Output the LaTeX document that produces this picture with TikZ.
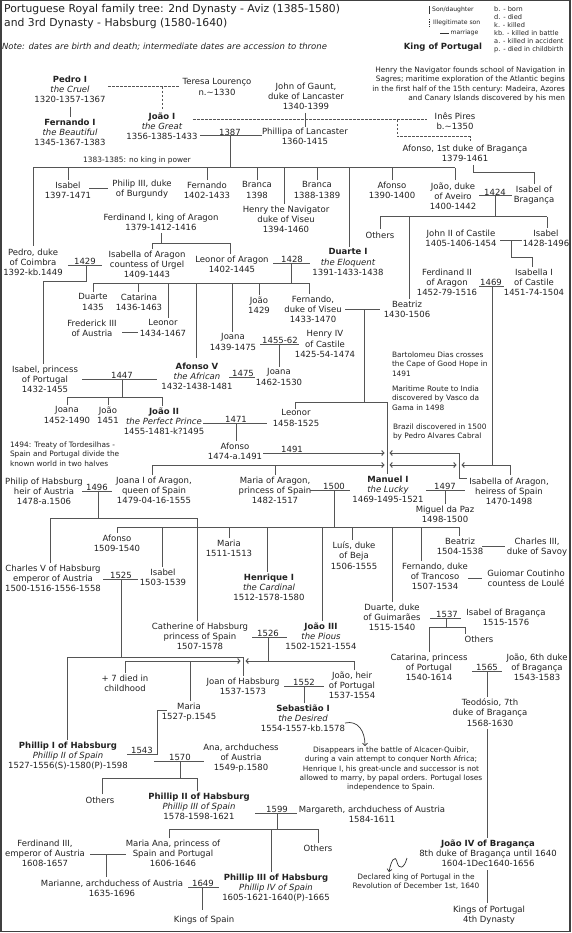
\documentclass[tikz,border=0pt]{standalone}
\usepackage{fontspec}
\setmainfont{DejaVu Sans}
\usetikzlibrary{arrows.meta}
\definecolor{txt}{HTML}{222222}
\definecolor{lnc}{HTML}{555555}
\newcommand\mfont{\fontsize{8.5}{10.3}\selectfont}
\newcommand\sfont{\fontsize{7.4}{9.3}\selectfont}
\begin{document}
\begin{tikzpicture}[x=1pt,y=-1pt,
  t/.style={anchor=north,yshift=4.4pt,inner sep=0pt,outer sep=0pt,align=center,font=\mfont,text=txt,execute at begin node=\strut,execute at end node=\strut},
  sn/.style={yshift=4.2pt,inner sep=0pt,outer sep=0pt,font=\sfont,text=txt,execute at begin node=\strut,execute at end node=\strut},
  yr/.style={anchor=south,yshift=0.8pt,inner sep=0pt,outer sep=0pt,font=\mfont,text=txt},
  ill/.style={dash pattern=on 2.5pt off 1.5pt},
  cx/.style={-{Straight Barb[length=2.2pt,width=5pt]}},
  xc/.style={{Straight Barb[length=2.2pt,width=5pt]}-},
  xcx/.style={{Straight Barb[length=2.2pt,width=5pt]}-{Straight Barb[length=2.2pt,width=5pt]}}]
\useasboundingbox (0,0) rectangle (572,933);
\fill[white] (0,0) rectangle (572,933);
\draw[black!75,line width=1.5pt] (0.75,0.75) rectangle (570,931.5);

% title, note, legend
\node[anchor=north west,inner sep=0pt,align=left,font=\fontsize{10.8}{14}\selectfont,text=txt,execute at begin node=\strut] (title) at (4,3.8) {Portuguese Royal family tree: 2nd Dynasty - Aviz (1385-1580)\\and 3rd Dynasty - Habsburg (1580-1640)};
\node[t,anchor=north west,align=left] (note) at (2,47) {\itshape Note: dates are birth and death; intermediate dates are accession to throne};
\begin{scope}[color=black!80,line width=0.8pt]
\draw (429.5,6) -- (429.5,14);
\draw[dash pattern=on 1.5pt off 1pt] (429.5,19) -- (429.5,27);
\draw (440,33) -- (449,33);
\end{scope}
\node[anchor=west,inner sep=0pt,font=\fontsize{6.1}{7}\selectfont,text=txt] (lg1) at (432,10) {Son/daughter};
\node[anchor=west,inner sep=0pt,font=\fontsize{6.1}{7}\selectfont,text=txt] (lg2) at (433,23) {Illegitimate son};
\node[anchor=west,inner sep=0pt,font=\fontsize{6.1}{7}\selectfont,text=txt] (lg3) at (450.5,33) {marriage};
\node[inner sep=0pt,font=\mfont\bfseries,text=txt] (lgk) at (443,47) {King of Portugal};
\node[anchor=north west,inner sep=0pt,align=left,font=\fontsize{6.6}{8.1}\selectfont,text=txt,execute at begin node=\strut] (abbr) at (494,5.8) {b. - born\\d. - died\\k. - killed\\kb. - killed in battle\\a. - killed in accident\\p. - died in childbirth};

% people
\node[t] (pedro) at (70,80) {{\bfseries Pedro I}\\{\itshape the Cruel}\\1320-1357-1367};
\node[t] (fernando) at (70,123) {{\bfseries Fernando I}\\{\itshape the Beautiful}\\1345-1367-1383};
\node[t] (teresa) at (217,83) {Teresa Lourenço\\n.\textasciitilde1330};
\node[t] (joao1) at (162,117) {{\bfseries João I}\\{\itshape the Great}\\1356-1385-1433};
\node[t] (gaunt) at (306,87) {John of Gaunt,\\duke of Lancaster\\1340-1399};
\node[t] (phillipa) at (305,132) {Phillipa of Lancaster\\1360-1415};
\node[t] (ines) at (455,117) {Inês Pires\\b.\textasciitilde1350};
\node[t] (afonsoB) at (465,149) {Afonso, 1st duke of Bragança\\1379-1461};
\node[sn,anchor=north east,align=right] (henrynote) at (565,71) {Henry the Navigator founds school of Navigation in\\Sagres; maritime exploration of the Atlantic begins\\in the first half of the 15th century: Madeira, Azores\\and Canary Islands discovered by his men};
\node[sn,anchor=north] (noking) at (137,160) {1383-1385: no king in power};

\node[t] (isabel1) at (68,186) {Isabel\\1397-1471};
\node[t] (philip3) at (142,184) {Philip III, duke\\of Burgundy};
\node[t] (fernando2) at (207,186) {Fernando\\1402-1433};
\node[t] (branca1) at (257,186) {Branca\\1398};
\node[t] (henry) at (286,210) {Henry the Navigator\\duke of Viseu\\1394-1460};
\node[t] (branca2) at (317,186) {Branca\\1388-1389};
\node[t] (afonso2) at (392,186) {Afonso\\1390-1400};
\node[t] (joaoAv) at (453,187) {João, duke\\of Aveiro\\1400-1442};
\node[t] (isabelB) at (534,190) {Isabel of\\Bragança};
\node[t] (ferdinand1) at (161,218) {Ferdinand I, king of Aragon\\1379-1412-1416};
\node[t] (pedroC) at (33,253) {Pedro, duke\\of Coimbra\\1392-kb.1449};
\node[t] (isabellaA) at (147,255) {Isabella of Aragon\\countess of Urgel\\1409-1443};
\node[t] (leonorA) at (232,260) {Leonor of Aragon\\1402-1445};
\node[t] (duarte1) at (348,253) {{\bfseries Duarte I}\\{\itshape the Eloquent}\\1391-1433-1438};
\node[t] (others1) at (380,236) {Others};
\node[t] (johnII) at (461,234) {John II of Castile\\1405-1406-1454};
\node[t] (isabel3) at (546,234) {Isabel\\1428-1496};
\node[t] (ferdinand2) at (447,273) {Ferdinand II\\of Aragon\\1452-79-1516};
\node[t] (isabellaI) at (534,273) {Isabella I\\of Castile\\1451-74-1504};
\node[t] (duarte2) at (93,298) {Duarte\\1435};
\node[t] (catarina1) at (139,298) {Catarina\\1436-1463};
\node[t] (joao1429) at (259,301) {João\\1429};
\node[t] (fernandoV) at (313,300) {Fernando,\\duke of Viseu\\1433-1470};
\node[t] (beatriz1) at (407,305) {Beatriz\\1430-1506};
\node[t] (frederick) at (92,324) {Frederick III\\of Austria};
\node[t] (leonor2) at (163,324) {Leonor\\1434-1467};
\node[t] (joana1) at (233,338) {Joana\\1439-1475};
\node[t] (henryIV) at (325,335) {Henry IV\\of Castile\\1425-54-1474};
\node[t] (afonso5) at (197,367) {{\bfseries Afonso V}\\{\itshape the African}\\1432-1438-1481};
\node[t] (joana2) at (279,373) {Joana\\1462-1530};
\node[t] (isabelP) at (45,370) {Isabel, princess\\of Portugal\\1432-1455};
\node[t] (joana3) at (67,411) {Joana\\1452-1490};
\node[t] (joao1451) at (108,411) {João\\1451};
\node[t] (joao2) at (164,412) {{\bfseries João II}\\{\itshape the Perfect Prince}\\1455-1481-k?1495};
\node[t] (leonor3) at (296,414) {Leonor\\1458-1525};
\node[t] (afonso3) at (235,447) {Afonso\\1474-a.1491};
\node[sn,anchor=north west,align=left] (tordesilhas) at (10,446) {1494: Treaty of Tordesilhas -\\Spain and Portugal divide the\\known world in two halves};
\node[sn,anchor=north west,align=left] (dias) at (392,356) {Bartolomeu Dias crosses\\the Cape of Good Hope in\\1491};
\node[sn,anchor=north west,align=left] (gama) at (392,390) {Maritime Route to India\\discovered by Vasco da\\Gama in 1498};
\node[sn,anchor=north west,align=left] (brazil) at (393,428) {Brazil discovered in 1500\\by Pedro Alvares Cabral};
\node[t] (philipH) at (44,482) {Philip of Habsburg\\heir of Austria\\1478-a.1506};
\node[t] (joanaI) at (154,481) {Joana I of Aragon,\\queen of Spain\\1479-04-16-1555};
\node[t] (mariaA) at (275,481) {Maria of Aragon,\\princess of Spain\\1482-1517};
\node[t] (manuel) at (388,480) {{\bfseries Manuel I}\\{\itshape the Lucky}\\1469-1495-1521};
\node[t] (isabellaAr) at (509,482) {Isabella of Aragon,\\heiress of Spain\\1470-1498};
\node[t] (miguel) at (445,510) {Miguel da Paz\\1498-1500};
\node[t] (afonso4) at (117,539) {Afonso\\1509-1540};
\node[t] (maria2) at (229,544) {Maria\\1511-1513};
\node[t] (luis) at (354,546) {Luís, duke\\of Beja\\1506-1555};
\node[t] (beatriz2) at (460,542) {Beatriz\\1504-1538};
\node[t] (charles3) at (537,542) {Charles III,\\duke of Savoy};
\node[t] (charlesV) at (53,569) {Charles V of Habsburg\\emperor of Austria\\1500-1516-1556-1558};
\node[t] (isabel4) at (163,573) {Isabel\\1503-1539};
\node[t] (henrique) at (269,578) {{\bfseries Henrique I}\\{\itshape the Cardinal}\\1512-1578-1580};
\node[t] (fernandoT) at (435,567) {Fernando, duke\\of Trancoso\\1507-1534};
\node[t] (guiomar) at (526,574) {Guiomar Coutinho\\countess de Loulé};
\node[t] (duarteG) at (392,608) {Duarte, duke\\of Guimarães\\1515-1540};
\node[t] (isabelB2) at (506,613) {Isabel of Bragança\\1515-1576};
\node[t] (catherine) at (200,627) {Catherine of Habsburg\\princess of Spain\\1507-1578};
\node[t] (joao3) at (321,627) {{\bfseries João III}\\{\itshape the Pious}\\1502-1521-1554};
\node[t] (othersB) at (479,640) {Others};
\node[t] (catarinaP) at (429,658) {Catarina, princess\\of Portugal\\1540-1614};
\node[t] (joao6) at (537,658) {João, 6th duke\\of Bragança\\1543-1583};
\node[t] (died7) at (125,679) {+ 7 died in\\childhood};
\node[t] (joan) at (243,682) {Joan of Habsburg\\1537-1573};
\node[t] (joaoHeir) at (352,676) {João, heir\\of Portugal\\1537-1554};
\node[t] (teodosio) at (490,703) {Teodósio, 7th\\duke of Bragança\\1568-1630};
\node[t] (maria3) at (189,707) {Maria\\1527-p.1545};
\node[t] (sebastiao) at (303,709) {{\bfseries Sebastião I}\\{\itshape the Desired}\\1554-1557-kb.1578};
\node[sn,anchor=north,align=center] (sebnote) at (391,751) {Disappears in the battle of Alcacer-Quibir,\\during a vain attempt to conquer North Africa;\\Henrique I, his great-uncle and successor is not\\allowed to marry, by papal orders. Portugal loses\\independence to Spain.};
\node[t] (phillipI) at (68,746) {{\bfseries Phillip I of Habsburg}\\{\itshape Phillip II of Spain}\\1527-1556(S)-1580(P)-1598};
\node[t] (ana) at (241,748) {Ana, archduchess\\of Austria\\1549-p.1580};
\node[t] (othersC) at (100,801) {Others};
\node[t] (phillipII) at (199,797) {{\bfseries Phillip II of Habsburg}\\{\itshape Phillip III of Spain}\\1578-1598-1621};
\node[t] (margareth) at (372,810) {Margareth, archduchess of Austria\\1584-1611};
\node[t] (othersD) at (318,849) {Others};
\node[t] (ferdinand3) at (45,844) {Ferdinand III,\\emperor of Austria\\1608-1657};
\node[t] (mariaAna) at (173,844) {Maria Ana, princess of\\Spain and Portugal\\1606-1646};
\node[t] (marianne) at (112,884) {Marianne, archduchess of Austria\\1635-1696};
\node[t] (phillipIII) at (276,878) {{\bfseries Phillip III of Habsburg}\\{\itshape Phillip IV of Spain}\\1605-1621-1640(P)-1665};
\node[t] (kingsSpain) at (204,920) {Kings of Spain};
\node[t] (joao4) at (488,844) {{\bfseries João IV of Bragança}\\8th duke of Bragança until 1640\\1604-1Dec1640-1656};
\node[sn,anchor=north,align=center] (declared) at (416,878) {Declared king of Portugal in the\\Revolution of December 1st, 1640};
\node[t] (kingsPortugal) at (489,910) {Kings of Portugal\\4th Dynasty};

% marriage years
\node[yr] (y1387) at (230,136) {1387};
\node[yr] (y1424) at (495,196) {1424};
\node[yr] (y1429) at (85,265) {1429};
\node[yr] (y1428) at (292,263) {1428};
\node[yr] (y1469) at (491,286) {1469};
\node[yr] (y145562) at (280,344) {1455-62};
\node[yr] (y1447) at (122,379) {1447};
\node[yr] (y1475) at (243,377) {1475};
\node[yr] (y1471) at (236,423) {1471};
\node[yr] (y1491) at (292,453) {1491};
\node[yr] (y1496) at (97,491) {1496};
\node[yr] (y1500) at (334,490) {1500};
\node[yr] (y1497) at (445,490) {1497};
\node[yr] (y1525) at (121,579) {1525};
\node[yr] (y1537) at (447,618) {1537};
\node[yr] (y1526) at (268,637) {1526};
\node[yr] (y1565) at (487,671) {1565};
\node[yr] (y1552) at (304,686) {1552};
\node[yr] (y1543) at (142,754) {1543};
\node[yr] (y1570) at (180,761) {1570};
\node[yr] (y1599) at (277,813) {1599};
\node[yr] (y1649) at (203,887) {1649};

\begin{scope}[color=lnc,line width=1pt]
% illegitimate links
\draw[ill] (108,87) -- (180,87);
\draw[ill] (162,87) -- (162,110);
\draw[ill] (193,120) -- (427,120);
\draw[ill] (397,120) -- (397,137) -- (470,137) -- (470,143);
% Pedro I -> Fernando I
\draw (70,107) -- (70,117);
% Joao I + Phillipa
\draw (200,136) -- (262,136);
\draw (305,113) -- (305,127);
\draw (230,136) -- (230,168);
\draw (33,168) -- (455,168);
\foreach \x/\y in {33/246,68/180,207/180,257/180,284/204,317/180,349/247,392/180,455/180}
  \draw (\x,168) -- (\x,\y);
\draw (89,189) -- (108,189);
% Afonso of Braganca -> Isabel
\draw (473,165) -- (473,173) -- (534,173) -- (534,184);
% Joao of Aveiro + Isabel 1424
\draw (479,196) -- (512,196);
\draw (495,196) -- (495,217);
\draw (380,217) -- (547,217);
\draw (380,217) -- (380,229);
\draw (409,217) -- (409,299);
\draw (547,217) -- (547,228);
% John II + Isabel
\draw (500,240) -- (522,240);
\draw (511,240) -- (511,257) -- (532,257) -- (532,267);
% Ferdinand II + Isabella I 1469
\draw (479,286) -- (504,286);
\draw (492,286) -- (492,465);
% Ferdinand I of Aragon
\draw (161,233) -- (161,243);
\draw (152,249) -- (152,243) -- (230,243) -- (230,254);
% Pedro + Isabella 1429
\draw (68,265) -- (102,265);
\draw (86,265) -- (86,281) -- (43,281) -- (43,364);
% Duarte + Leonor 1428
\draw (273,263) -- (310,263);
\draw (291,263) -- (291,283);
\draw (93,292) -- (93,283) -- (309,283) -- (309,294);
\foreach \x/\y in {138/292,168/318,196/358,232/332,259/295}
  \draw (\x,283) -- (\x,\y);
\draw (122,332) -- (138,332);
% Fernando + Beatriz
\draw (345,309) -- (380,309);
\draw (364,309) -- (364,402);
\draw (295,409) -- (295,402) -- (387,402) -- (387,474);
% Henry IV + Joana
\draw (260,344) -- (299,344);
\draw (279,344) -- (279,367);
\draw (229,377) -- (255,377);
% Afonso V + Isabel 1447
\draw (82,379) -- (157,379);
\draw (122,379) -- (122,397);
\draw (67,405) -- (67,397) -- (162,397) -- (162,406);
\draw (108,397) -- (108,405);
% Joao II + Leonor 1471
\draw (203,423) -- (267,423);
\draw (236,423) -- (236,441);
% Afonso + Isabella 1491
\draw[cx] (263,453) -- (384.5,453);
\draw[xc] (389.5,453) -- (459,453) -- (459,478) -- (467,478);
% children of Ferdinand and Isabella
\draw[cx] (152,465) -- (384.5,465);
\draw[xcx] (389.5,465) -- (456.5,465);
\draw[xc] (461.5,465) -- (510,465);
\draw (152,465) -- (152,475);
\draw (275,465) -- (275,475);
\draw (510,465) -- (510,475);
% Philip + Joana 1496
\draw (82,491) -- (112,491);
\draw (98,491) -- (98,518);
\draw (50,563) -- (50,518) -- (197,518) -- (197,621);
% Maria + Manuel 1500
\draw (310,490) -- (350,490);
\draw (334,490) -- (334,527);
\draw (117,533) -- (117,527) -- (459,527) -- (459,536);
\foreach \x/\y in {162/567,229/538,267/572,322/621,352/540,392/602,421/561}
  \draw (\x,527) -- (\x,\y);
% Manuel + Isabella 1497
\draw (426,490) -- (465,490);
\draw (445,490) -- (445,504);
\draw (482,546) -- (505,546);
\draw (468,578) -- (482,578);
% Charles V + Isabel 1525
\draw (103,579) -- (138,579);
\draw (121,579) -- (121,657);
\draw (67,740) -- (67,657) -- (243,657) -- (243,676);
% Duarte + Isabel of Braganca 1537
\draw (430,618) -- (461,618);
\draw (446,618) -- (446,627);
\draw (429,652) -- (429,627) -- (465,627) -- (465,634);
% Catherine + Joao III 1526
\draw (252,637) -- (287,637);
\draw (268,637) -- (268,661);
\draw[cx] (125,661) -- (240.5,661);
\draw[xc] (245.5,661) -- (354,661) -- (354,670);
\draw (125,661) -- (125,673);
\draw (190,661) -- (190,701);
% Joan + Joao 1552
\draw (284,686) -- (324,686);
\draw (304,686) -- (304,703);
% Phillip + Maria 1543
\draw (127,754) -- (157,754) -- (157,710) -- (167,710);
% Phillip + Ana 1570
\draw (154,761) -- (204,761);
\draw (180,761) -- (180,778);
\draw (102,794) -- (102,778) -- (197,778) -- (197,791);
% Catarina + Joao 1565
\draw (472,671) -- (502,671);
\draw (487,671) -- (487,697);
\draw (487,729) -- (487,838);
\draw (487,870) -- (487,903);
% Phillip II + Margareth 1599
\draw (255,813) -- (297,813);
\draw (277,813) -- (277,829);
\draw (169,838) -- (169,829) -- (318,829) -- (318,843);
\draw (271,829) -- (271,872);
% Ferdinand III + Maria Ana
\draw (90,854) -- (126,854);
\draw (106,854) -- (106,877);
% Marianne + Phillip III 1649
\draw (188,887) -- (219,887);
\draw (202,887) -- (202,910);
\end{scope}

% note arrows
\draw[color=black!80,line width=0.7pt,-{Straight Barb[length=2.5pt,width=5pt]}] (345,723) .. controls (358,720) and (365,731) .. (365,746);
\draw[color=black!80,line width=0.7pt,-{Straight Barb[length=2.5pt,width=5pt]}] (407,858) .. controls (404,869) and (399,870) .. (397,862) .. controls (395,854) and (391,861) .. (389,872);
\end{tikzpicture}
\end{document}
